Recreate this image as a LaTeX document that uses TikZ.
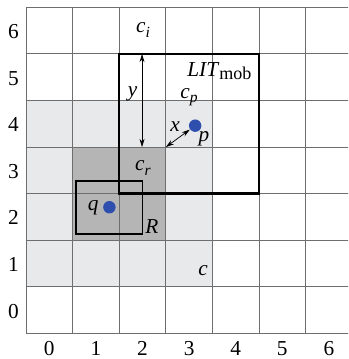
\documentclass[tikz,border=0pt]{standalone}
\usepackage{fontspec}
\setmainfont{Liberation Serif}
\usetikzlibrary{arrows.meta}
\definecolor{lightcell}{HTML}{E8E9EA}
\definecolor{darkcell}{HTML}{B5B5B5}
\definecolor{dotblue}{HTML}{2F4FAF}
\definecolor{gridgray}{HTML}{6E6E6E}
\newcommand{\subi}[1]{\raisebox{-0.45ex}{\fontsize{9.5}{10}\selectfont\textit{#1}}}
\begin{document}
\begin{tikzpicture}[x=1cm,y=1cm,
  font=\fontsize{13}{15}\selectfont,
  gridline/.style={draw=gridgray,line width=0.6pt},
  litbox/.style={draw=black,line width=1.5pt},
  rbox/.style={draw=black,line width=1pt},
  dot/.style={circle,fill=dotblue,inner sep=0pt,minimum size=7.6pt},
  dim/.style={draw=black,line width=0.45pt,{Stealth[length=5pt,width=3pt]}-{Stealth[length=5pt,width=3pt]}},
  lbl/.style={inner sep=0pt}]
\useasboundingbox (-0.558,-0.547) rectangle (6.91,7.157);
\begin{scope}
\clip (-0.558,-0.547) rectangle (6.91,7.157);
\fill[lightcell] (0,1) rectangle (4,5);
\fill[darkcell] (1,2) rectangle (3,4);
\draw[gridline] (0,0) grid (7,7);
\end{scope}
\draw[litbox] (2,3) rectangle (5,6);
\draw[rbox] (1.07,2.13) rectangle (2.5,3.27);
\node[dot] (q) at (1.79,2.71) {};
\node[dot] (p) at (3.63,4.46) {};
\coordinate (corner) at (3,4);
\coordinate (ytop) at (2.49,6);
\coordinate (ybot) at (2.49,4);
\draw[dim] (corner) -- (p);
\draw[dim] (ytop) -- (ybot);
\node[lbl] (ci) at (2.51,6.51) {\textit{c}\subi{i}};
\node[lbl] (lit) at (4.15,5.63) {\textit{LIT}\raisebox{-0.25ex}{\fontsize{11}{12}\selectfont mob}};
\node[lbl] (cp) at (3.5,5.07) {\textit{c}\subi{p}};
\node[lbl] (plbl) at (3.82,4.19) {\textit{p}};
\node[lbl] (xlbl) at (3.2,4.43) {\textit{x}};
\node[lbl] (ylbl) at (2.29,5.15) {\textit{y}};
\node[lbl] (cr) at (2.51,3.55) {\textit{c}\subi{r}};
\node[lbl] (qlbl) at (1.44,2.69) {\textit{q}};
\node[lbl] (R) at (2.70,2.29) {\textit{R}};
\node[lbl] (c) at (3.8,1.36) {\textit{c}};
\foreach \i in {0,...,6}{
  \node[lbl] (col\i) at (\i+0.5,-0.33) {\i};
  \node[lbl] (row\i) at (-0.27,\i+0.48) {\i};
}
\end{tikzpicture}
\end{document}
